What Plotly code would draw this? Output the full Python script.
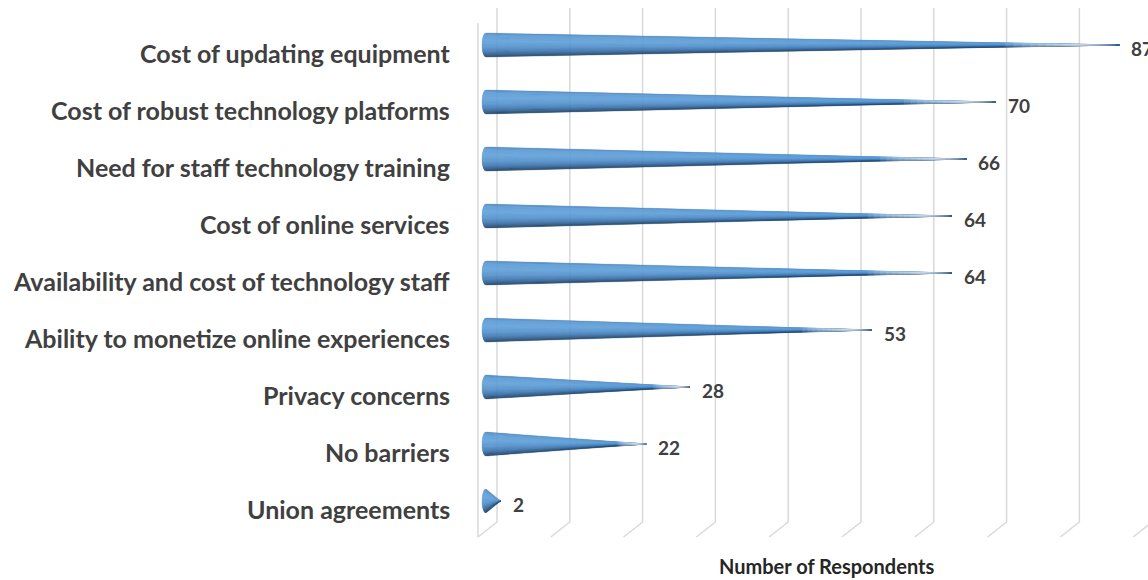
import numpy as np
import plotly.graph_objects as go

# Survey data: barriers to offering technology / online experiences
categories = [
    "Cost of updating equipment",
    "Cost of robust technology platforms",
    "Need for staff technology training",
    "Cost of online services",
    "Availability and cost of technology staff",
    "Ability to monetize online experiences",
    "Privacy concerns",
    "No barriers",
    "Union agreements",
]
respondents = [87, 70, 66, 64, 64, 53, 28, 22, 2]
grid_ticks = [0, 10, 20, 30, 40, 50, 60, 70, 80, 90]
axis_title = "Number of Respondents"

# ---- canvas geometry (pixels) ----
W, H = 1148, 580
PX_PER_UNIT = 7.28        # horizontal scale of the value axis
ZERO_PX = 486             # pixel column of value 0 at the cone's depth
ROW_PX = 57               # vertical distance between rows
FIRST_ROW_PX = 45         # pixel row of the first cone axis

x_range = [-ZERO_PX / PX_PER_UNIT, (W - ZERO_PX) / PX_PER_UNIT]
y_top = -FIRST_ROW_PX / ROW_PX
y_range = [y_top + H / ROW_PX, y_top]   # reversed: first category on top


def px_to_x(dx):
    return dx / PX_PER_UNIT


def px_to_y(dy):
    return dy / ROW_PX


# pseudo-3D walls: back wall shifted right/up, floor edge at the front
BACK_DX = px_to_x(11)
FRONT_DX = px_to_x(-8)
WALL_TOP = px_to_y(8 - FIRST_ROW_PX)
LEFT_WALL_TOP = px_to_y(23 - FIRST_ROW_PX)
BACK_BOTTOM = px_to_y(522 - FIRST_ROW_PX)
FRONT_BOTTOM = px_to_y(537 - FIRST_ROW_PX)
GRID_COLOR = "#d9d9d9"

fig = go.Figure()

gx, gy = [], []
for t in grid_ticks:
    gx += [t + BACK_DX, t + BACK_DX, t + FRONT_DX, None]
    gy += [WALL_TOP, BACK_BOTTOM, FRONT_BOTTOM, None]
# left wall edge
gx += [FRONT_DX, FRONT_DX, None]
gy += [LEFT_WALL_TOP, FRONT_BOTTOM, None]
fig.add_trace(go.Scatter(x=gx, y=gy, mode="lines",
                         line=dict(color=GRID_COLOR, width=1.5),
                         hoverinfo="skip", showlegend=False))

# ---- cones: drawn as horizontal shading bands that meet at the tip ----
HALF_H = px_to_y(12)      # half height of the cone base
CAP_A = px_to_x(4)        # horizontal radius of the elliptical base

shade_t = [-1.0, -0.8, -0.3, 0.2, 0.55, 0.8, 1.0]
shade_c = ["#4a7fb6", "#5b9bd5", "#62a2da", "#5592cc", "#4079b3",
           "#2e5d8e", "#1f3f62"]


def hex_rgb(h):
    h = h.lstrip("#")
    return [int(h[i:i + 2], 16) for i in (0, 2, 4)]


shade_rgb = np.array([hex_rgb(c) for c in shade_c], dtype=float)


def shade(t):
    r, g, b = (np.interp(t, shade_t, shade_rgb[:, k]) for k in range(3))
    return f"rgb({r:.0f},{g:.0f},{b:.0f})"


N_BANDS = 30
edges = np.linspace(-1, 1, N_BANDS + 1)
for k in range(N_BANDS):
    t0, t1 = edges[k], edges[k + 1]
    col = shade((t0 + t1) / 2)
    xs, ys = [], []
    for i, v in enumerate(respondents):
        yc = i
        x0 = -CAP_A * np.sqrt(max(0.0, 1 - t0 ** 2))
        x1 = -CAP_A * np.sqrt(max(0.0, 1 - t1 ** 2))
        xs += [x0, x1, v, x0, None]
        ys += [yc + t0 * HALF_H, yc + t1 * HALF_H, yc, yc + t0 * HALF_H, None]
    fig.add_trace(go.Scatter(x=xs, y=ys, mode="lines", fill="toself",
                             fillcolor=col, line=dict(color=col, width=0.3),
                             hoverinfo="skip", showlegend=False))

# soft highlight that fades each cone out toward its tip
FADE_FRACTION = 0.18
FADE_STEPS = 14
for s in range(FADE_STEPS):
    frac = FADE_FRACTION * (FADE_STEPS - s) / FADE_STEPS
    xs, ys = [], []
    for i, v in enumerate(respondents):
        if v < 10:
            continue
        xa = v * (1 - frac)
        ha = HALF_H * frac * 1.2
        xs += [xa, xa, v + px_to_x(1.5), xa, None]
        ys += [i - ha, i + ha, i, i - ha, None]
    fig.add_trace(go.Scatter(x=xs, y=ys, mode="lines", fill="toself",
                             fillcolor="rgba(255,255,255,0.12)",
                             line=dict(width=0), hoverinfo="skip",
                             showlegend=False))

# ---- text ----
LABEL_COLOR = "#404040"
FONT = "Lato"
annotations = []
for i, (cat, v) in enumerate(zip(categories, respondents)):
    annotations.append(dict(
        x=px_to_x(452 - ZERO_PX), y=i, xref="x", yref="y",
        text=cat, showarrow=False, xanchor="right", yanchor="middle",
        yshift=-8, font=dict(family=FONT, size=25, color=LABEL_COLOR,
                             weight="bold")))
    annotations.append(dict(
        x=v, y=i, xref="x", yref="y", text=str(v), showarrow=False,
        xanchor="left", yanchor="middle", xshift=10, yshift=-3,
        font=dict(family=FONT, size=19, color=LABEL_COLOR, weight="bold")))

annotations.append(dict(
    x=826 / W, y=1 - 566 / H, xref="paper", yref="paper", text=axis_title,
    showarrow=False, xanchor="center", yanchor="middle",
    font=dict(family=FONT, size=20, color="#262626", weight="bold")))

fig.update_layout(
    width=W, height=H,
    margin=dict(l=0, r=0, t=0, b=0),
    paper_bgcolor="white", plot_bgcolor="white",
    xaxis=dict(range=x_range, visible=False, fixedrange=True),
    yaxis=dict(range=y_range, visible=False, fixedrange=True),
    annotations=annotations,
    showlegend=False,
)

fig.write_html("out.html")
